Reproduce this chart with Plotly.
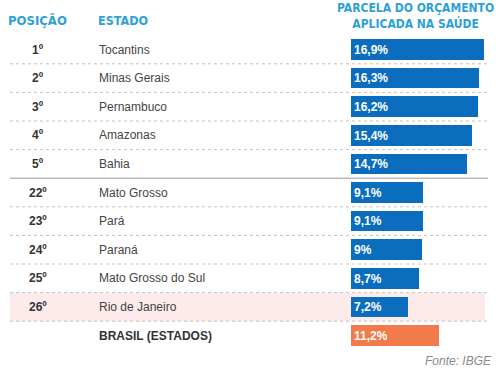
import plotly.graph_objects as go

positions = ["1º", "2º", "3º", "4º", "5º", "22º", "23º", "24º", "25º", "26º", ""]
states = ["Tocantins", "Minas Gerais", "Pernambuco", "Amazonas", "Bahia",
          "Mato Grosso", "Pará", "Paraná", "Mato Grosso do Sul", "Rio de Janeiro",
          "BRASIL (ESTADOS)"]
values = [16.9, 16.3, 16.2, 15.4, 14.7, 9.1, 9.1, 9, 8.7, 7.2, 11.2]
header_pos = "POSIÇÃO"
header_state = "ESTADO"
header_value = "PARCELA DO ORÇAMENTO<br>APLICADA NA SAÚDE"
source = "Fonte: IBGE"

BLUE = "#0b6dbd"
ORANGE = "#f37a4b"
HEAD = "#2e9fd9"
NARROW = "Liberation Sans Narrow, Arial Narrow, DejaVu Sans Condensed, sans-serif"
SANS = "Liberation Sans, Arial, Helvetica, sans-serif"

rows = list(range(len(values)))
labels = [("%g" % v).replace(".", ",") + "%" for v in values]
colors = [ORANGE if s.startswith("BRASIL") else BLUE for s in states]

fig = go.Figure()
fig.add_trace(go.Bar(
    x=values, y=rows, orientation="h", width=0.72,
    marker=dict(color=colors, line=dict(width=0)),
    text=labels, textposition="inside", insidetextanchor="start",
    textangle=0, constraintext="none",
    insidetextfont=dict(family=SANS, size=12, color="white", weight="bold"),
    hoverinfo="skip",
))

shapes = []
# highlight band for Rio de Janeiro
rio = states.index("Rio de Janeiro")
shapes.append(dict(type="rect", xref="paper", yref="y", x0=10/500, x1=485/500,
                   y0=rio - 0.5, y1=rio + 0.5, fillcolor="#fdeaea",
                   line=dict(width=0), layer="below"))
for i in range(len(values) - 1):
    if i == 4:
        line = dict(color="#9a9a9a", width=1)
    else:
        line = dict(color="#c4c4c4", width=1, dash="dot")
    shapes.append(dict(type="line", xref="paper", yref="y", x0=10/500, x1=488/500,
                       y0=i + 0.5, y1=i + 0.5, line=line, layer="below"))

ann = []
for i, (p, s) in enumerate(zip(positions, states)):
    bold = s.startswith("BRASIL")
    if p:
        ann.append(dict(x=38/500, y=i, xref="paper", yref="y", text=p, showarrow=False,
                        xanchor="center", yanchor="middle",
                        font=dict(family=SANS, size=12, color="#333333", weight="bold")))
    ann.append(dict(x=97/500, y=i, xref="paper", yref="y", text=s, showarrow=False,
                    xanchor="left", yanchor="middle",
                    font=dict(family=SANS, size=12, color="#333333" if bold else "#444444",
                              weight="bold" if bold else "normal")))

ann.append(dict(x=37/500, y=1 - 20/375, xref="paper", yref="paper", text=header_pos,
                showarrow=False, xanchor="center", yanchor="middle",
                font=dict(family=NARROW, size=13, color=HEAD, weight="bold")))
ann.append(dict(x=96/500, y=1 - 20/375, xref="paper", yref="paper", text=header_state,
                showarrow=False, xanchor="left", yanchor="middle",
                font=dict(family=NARROW, size=12.5, color=HEAD, weight="bold")))
ann.append(dict(x=415/500, y=1 - 16/375, xref="paper", yref="paper", text=header_value,
                showarrow=False, xanchor="center", yanchor="middle", align="center",
                font=dict(family=NARROW, size=12, color=HEAD, weight="bold")))
ann.append(dict(x=494/500, y=1 - 361/375, xref="paper", yref="paper",
                text="<i>" + source + "</i>", showarrow=False,
                xanchor="right", yanchor="middle",
                font=dict(family=SANS, size=12, color="#8a8a8a")))

px_per_unit = 133 / 16.9
fig.update_layout(
    width=500, height=375,
    margin=dict(l=0, r=0, t=0, b=0),
    paper_bgcolor="white", plot_bgcolor="rgba(0,0,0,0)",
    showlegend=False,
    xaxis=dict(domain=[351/500, 1], range=[0, 149 / px_per_unit], visible=False,
               fixedrange=True),
    yaxis=dict(range=[(375 - 49.5) / 28.6, -49.5 / 28.6], visible=False, fixedrange=True),
    shapes=shapes, annotations=ann,
    bargap=0,
)
fig.write_html("out.html", config={"displayModeBar": False},
               post_script="document.body.style.margin='0';document.body.style.overflow='hidden';")
